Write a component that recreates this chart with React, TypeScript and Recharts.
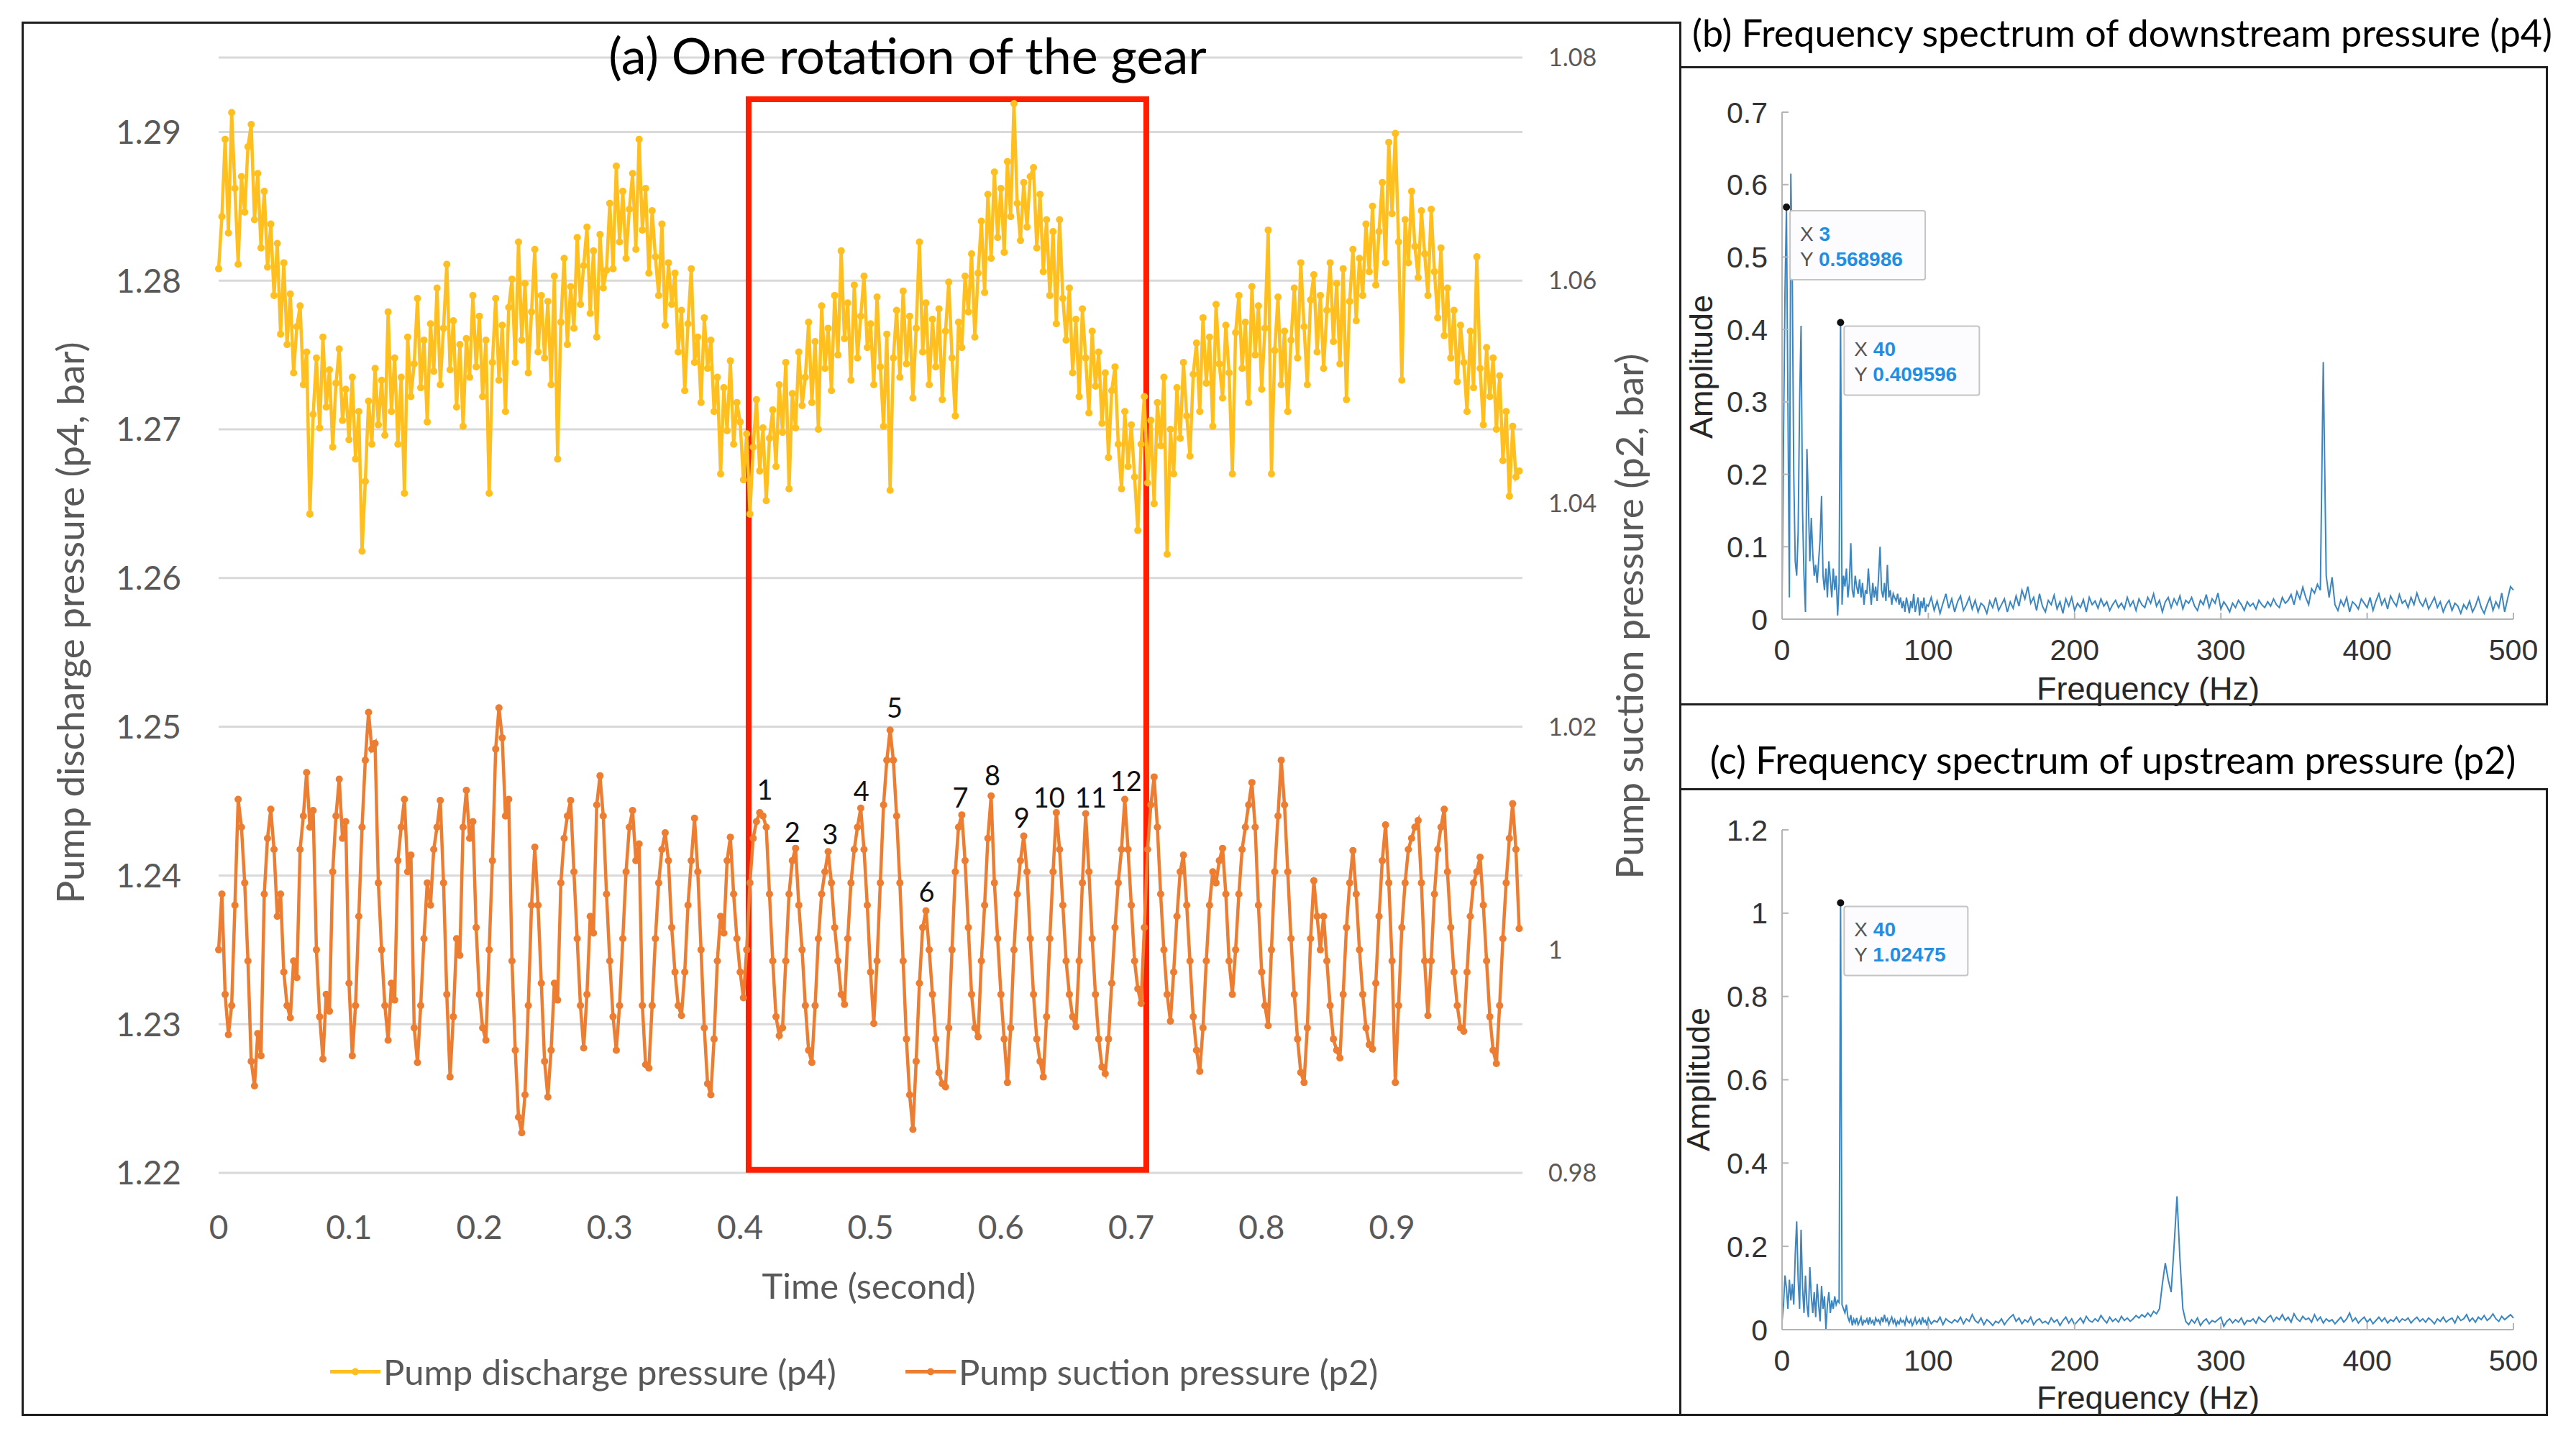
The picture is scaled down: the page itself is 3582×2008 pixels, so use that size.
import React from 'react';
import { CartesianGrid, Line, LineChart, ReferenceArea, ReferenceDot, XAxis, YAxis } from 'recharts';

const CAL = 'Lato, "Open Sans", sans-serif';
const MAT = '"Liberation Sans", Arial, sans-serif';
const YELLOW = '#FFBF1F';
const ORANGE = '#ED7D31';
const SPEC = '#3a86c2';
const AXIS_TXT = '#595959';

// time series, one sample every 2.5 ms (one line = 25 ms)
const SAMPLE_STEP = 0.0025;

// pump discharge pressure p4 (bar, left axis)
const p4 = [
  1.2808, 1.2843, 1.2895, 1.2832, 1.2913, 1.2862, 1.2811, 1.2870, 1.2846, 1.2890,
  1.2905, 1.2841, 1.2872, 1.2822, 1.2860, 1.2809, 1.2838, 1.2790, 1.2825, 1.2764,
  1.2812, 1.2757, 1.2791, 1.2738, 1.2769, 1.2783, 1.2730, 1.2752, 1.2643, 1.2710,
  1.2748, 1.2701, 1.2762, 1.2715, 1.2740, 1.2688, 1.2731, 1.2754, 1.2706, 1.2727,
  1.2693, 1.2735, 1.2680, 1.2712, 1.2618, 1.2665, 1.2719, 1.2690, 1.2741, 1.2703,
  1.2733, 1.2696, 1.2779, 1.2712, 1.2748, 1.2690, 1.2735, 1.2657, 1.2762, 1.2722,
  1.2744, 1.2788, 1.2728, 1.2760, 1.2705, 1.2771, 1.2739, 1.2795, 1.2730, 1.2768,
  1.2811, 1.2740, 1.2773, 1.2715, 1.2757, 1.2702, 1.2761, 1.2735, 1.2790, 1.2742,
  1.2776, 1.2722, 1.2760, 1.2657, 1.2745, 1.2788, 1.2733, 1.2770, 1.2712, 1.2782,
  1.2801, 1.2745, 1.2826, 1.2760, 1.2798, 1.2738, 1.2779, 1.2821, 1.2752, 1.2790,
  1.2748, 1.2786, 1.2730, 1.2803, 1.2680, 1.2772, 1.2815, 1.2757, 1.2796, 1.2768,
  1.2829, 1.2784, 1.2810, 1.2836, 1.2778, 1.2820, 1.2762, 1.2831, 1.2795, 1.2807,
  1.2852, 1.2808, 1.2877, 1.2826, 1.2860, 1.2815, 1.2848, 1.2872, 1.2821, 1.2895,
  1.2834, 1.2862, 1.2805, 1.2847, 1.2816, 1.2790, 1.2838, 1.2770, 1.2812, 1.2784,
  1.2805, 1.2752, 1.2780, 1.2726, 1.2771, 1.2808, 1.2745, 1.2762, 1.2718, 1.2775,
  1.2741, 1.2760, 1.2712, 1.2735, 1.2670, 1.2728, 1.2699, 1.2746, 1.2690, 1.2718,
  1.2705, 1.2666, 1.2697, 1.2643, 1.2688, 1.2720, 1.2672, 1.2701, 1.2652, 1.2694,
  1.2713, 1.2675, 1.2730, 1.2698, 1.2745, 1.2660, 1.2724, 1.2701, 1.2752, 1.2716,
  1.2735, 1.2772, 1.2718, 1.2759, 1.2700, 1.2783, 1.2741, 1.2768, 1.2726, 1.2790,
  1.2750, 1.2820, 1.2761, 1.2785, 1.2733, 1.2797, 1.2748, 1.2776, 1.2803, 1.2755,
  1.2771, 1.2730, 1.2789, 1.2742, 1.2702, 1.2764, 1.2659, 1.2748, 1.2780, 1.2735,
  1.2793, 1.2744, 1.2776, 1.2721, 1.2768, 1.2826, 1.2752, 1.2785, 1.2730, 1.2774,
  1.2742, 1.2781, 1.2720, 1.2766, 1.2799, 1.2748, 1.2709, 1.2772, 1.2755, 1.2803,
  1.2779, 1.2818, 1.2762, 1.2805, 1.2840, 1.2792, 1.2858, 1.2815, 1.2873, 1.2829,
  1.2862, 1.2819, 1.2880, 1.2843, 1.2919, 1.2852, 1.2827, 1.2866, 1.2836, 1.2870,
  1.2876, 1.2822, 1.2858, 1.2806, 1.2841, 1.2790, 1.2833, 1.2771, 1.2841, 1.2788,
  1.2760, 1.2795, 1.2738, 1.2774, 1.2722, 1.2781, 1.2748, 1.2711, 1.2766, 1.2729,
  1.2752, 1.2704, 1.2738, 1.2681, 1.2726, 1.2742, 1.2690, 1.2660, 1.2712, 1.2675,
  1.2703, 1.2668, 1.2632, 1.2690, 1.2722, 1.2664, 1.2706, 1.2650, 1.2718, 1.2689,
  1.2735, 1.2616, 1.2700, 1.2670, 1.2728, 1.2694, 1.2745, 1.2709, 1.2682, 1.2737,
  1.2758, 1.2712, 1.2775, 1.2731, 1.2762, 1.2702, 1.2784, 1.2744, 1.2721, 1.2770,
  1.2738, 1.2670, 1.2765, 1.2790, 1.2741, 1.2772, 1.2718, 1.2796, 1.2750, 1.2783,
  1.2727, 1.2768, 1.2834, 1.2670, 1.2753, 1.2789, 1.2730, 1.2766, 1.2712, 1.2760,
  1.2795, 1.2748, 1.2812, 1.2769, 1.2730, 1.2787, 1.2804, 1.2752, 1.2790, 1.2741,
  1.2780, 1.2812, 1.2759, 1.2798, 1.2744, 1.2808, 1.2720, 1.2786, 1.2821, 1.2773,
  1.2815, 1.2790, 1.2838, 1.2806, 1.2850, 1.2797, 1.2833, 1.2866, 1.2812, 1.2893,
  1.2845, 1.2899, 1.2826, 1.2733, 1.2841, 1.2812, 1.2860, 1.2823, 1.2802, 1.2847,
  1.2818, 1.2790, 1.2848, 1.2806, 1.2775, 1.2822, 1.2763, 1.2795, 1.2748, 1.2780,
  1.2732, 1.2770, 1.2745, 1.2712, 1.2766, 1.2728, 1.2816, 1.2741, 1.2703, 1.2755,
  1.2722, 1.2748, 1.2700, 1.2736, 1.2679, 1.2712, 1.2655, 1.2702, 1.2668, 1.2672,
];

// pump suction pressure p2 (bar, right axis)
const p2 = [
  1.0000, 1.0050, 0.9960, 0.9924, 0.9950, 1.0040, 1.0135, 1.0110, 1.0060, 0.9990,
  0.9900, 0.9878, 0.9925, 0.9905, 1.0050, 1.0100, 1.0126, 1.0090, 1.0030, 1.0050,
  0.9980, 0.9950, 0.9939, 0.9990, 0.9975, 1.0090, 1.0120, 1.0159, 1.0110, 1.0125,
  1.0000, 0.9940, 0.9902, 0.9960, 0.9945, 1.0070, 1.0120, 1.0153, 1.0100, 1.0115,
  0.9970, 0.9905, 0.9950, 1.0030, 1.0110, 1.0170, 1.0213, 1.0180, 1.0185, 1.0060,
  1.0000, 0.9950, 0.9919, 0.9970, 0.9955, 1.0080, 1.0110, 1.0135, 1.0070, 1.0085,
  0.9930, 0.9899, 0.9950, 1.0010, 1.0060, 1.0040, 1.0090, 1.0110, 1.0134, 1.0060,
  0.9960, 0.9886, 0.9940, 1.0010, 0.9995, 1.0110, 1.0143, 1.0100, 1.0115, 1.0020,
  0.9960, 0.9930, 0.9919, 1.0000, 1.0080, 1.0180, 1.0217, 1.0190, 1.0120, 1.0135,
  0.9990, 0.9910, 0.9850, 0.9836, 0.9870, 0.9950, 1.0040, 1.0092, 1.0040, 0.9970,
  0.9900, 0.9868, 0.9910, 0.9970, 0.9955, 1.0060, 1.0100, 1.0120, 1.0134, 1.0070,
  1.0010, 0.9950, 0.9912, 0.9960, 1.0030, 1.0015, 1.0130, 1.0156, 1.0120, 1.0050,
  0.9990, 0.9940, 0.9910, 0.9950, 1.0010, 1.0070, 1.0110, 1.0125, 1.0080, 1.0095,
  0.9950, 0.9897, 0.9894, 0.9950, 1.0010, 1.0060, 1.0090, 1.0105, 1.0080, 1.0020,
  0.9980, 0.9950, 0.9941, 0.9980, 1.0040, 1.0080, 1.0118, 1.0070, 1.0000, 0.9930,
  0.9880, 0.9870, 0.9920, 0.9990, 1.0030, 1.0015, 1.0080, 1.0101, 1.0050, 1.0010,
  0.9980, 0.9957, 1.0000, 1.0060, 1.0100, 1.0115, 1.0123, 1.0120, 1.0110, 1.0050,
  0.9990, 0.9940, 0.9923, 0.9930, 0.9990, 1.0050, 1.0080, 1.0091, 1.0040, 1.0000,
  0.9950, 0.9910, 0.9899, 0.9950, 1.0010, 1.0050, 1.0070, 1.0088, 1.0060, 1.0020,
  0.9990, 0.9960, 0.9951, 1.0010, 1.0060, 1.0090, 1.0110, 1.0127, 1.0090, 1.0040,
  0.9980, 0.9934, 0.9990, 1.0060, 1.0130, 1.0170, 1.0197, 1.0170, 1.0120, 1.0060,
  0.9990, 0.9920, 0.9870, 0.9839, 0.9900, 0.9970, 1.0020, 1.0035, 1.0000, 0.9960,
  0.9920, 0.9890, 0.9880, 0.9877, 0.9930, 1.0000, 1.0070, 1.0110, 1.0121, 1.0080,
  1.0020, 0.9960, 0.9930, 0.9922, 0.9990, 1.0040, 1.0100, 1.0138, 1.0060, 1.0010,
  0.9960, 0.9920, 0.9881, 0.9930, 1.0000, 1.0050, 1.0080, 1.0102, 1.0070, 1.0010,
  0.9960, 0.9920, 0.9900, 0.9886, 0.9940, 1.0010, 1.0070, 1.0123, 1.0090, 1.0040,
  0.9990, 0.9960, 0.9940, 0.9931, 0.9990, 1.0060, 1.0122, 1.0070, 1.0010, 0.9960,
  0.9920, 0.9895, 0.9889, 0.9920, 0.9970, 1.0020, 1.0060, 1.0090, 1.0135, 1.0090,
  1.0040, 0.9990, 0.9965, 0.9952, 1.0020, 1.0090, 1.0130, 1.0155, 1.0110, 1.0050,
  1.0000, 0.9960, 0.9936, 0.9980, 1.0030, 1.0070, 1.0085, 1.0040, 0.9990, 0.9940,
  0.9910, 0.9891, 0.9930, 0.9990, 1.0040, 1.0070, 1.0060, 1.0080, 1.0091, 1.0050,
  0.9990, 0.9960, 1.0000, 1.0050, 1.0090, 1.0110, 1.0130, 1.0150, 1.0110, 1.0040,
  0.9980, 0.9950, 0.9932, 1.0000, 1.0070, 1.0120, 1.0170, 1.0130, 1.0070, 1.0010,
  0.9960, 0.9920, 0.9890, 0.9881, 0.9930, 1.0010, 1.0062, 1.0030, 1.0000, 1.0030,
  0.9990, 0.9950, 0.9920, 0.9910, 0.9903, 0.9960, 1.0020, 1.0060, 1.0089, 1.0050,
  1.0000, 0.9960, 0.9930, 0.9915, 0.9911, 0.9970, 1.0030, 1.0080, 1.0112, 1.0060,
  0.9990, 0.9881, 0.9950, 1.0020, 1.0060, 1.0090, 1.0100, 1.0110, 1.0116, 1.0060,
  0.9990, 0.9941, 0.9990, 1.0050, 1.0090, 1.0110, 1.0126, 1.0070, 1.0020, 0.9980,
  0.9950, 0.9930, 0.9927, 0.9980, 1.0030, 1.0060, 1.0070, 1.0083, 1.0040, 0.9990,
  0.9940, 0.9910, 0.9898, 0.9950, 1.0010, 1.0060, 1.0100, 1.0131, 1.0090, 1.0019,
];

const timeTicks = [0, 0.1, 0.2, 0.3, 0.4, 0.5, 0.6, 0.7, 0.8, 0.9];
const p4Ticks = [1.22, 1.23, 1.24, 1.25, 1.26, 1.27, 1.28, 1.29];
const p2Ticks = [0.98, 1, 1.02, 1.04, 1.06, 1.08];

// tooth-pass peaks marked inside the red box (label position, right axis units)
const peakNames = ['1', '2', '3', '4', '5', '6', '7', '8', '9', '10', '11', '12'];
const peakTime = [0.419, 0.44, 0.469, 0.493, 0.5185, 0.543, 0.569, 0.5935, 0.616, 0.637, 0.669, 0.696];
const peakLevel = [1.0144, 1.0106, 1.0104, 1.0143, 1.0218, 1.0053, 1.0137, 1.0157, 1.0119, 1.0137, 1.0137, 1.0152];

// one gear rotation window
const boxTime = [0.4065, 0.7115];
const boxP4 = [1.2202, 1.2922];

// FFT amplitude, 0-99 Hz at 1 Hz, then 100-500 Hz at 2 Hz
const p4SpecLow = [
  0.030, 0.250, 0.450, 0.568986, 0.300, 0.030, 0.615, 0.470, 0.200, 0.080,
  0.060, 0.120, 0.300, 0.405, 0.150, 0.060, 0.010, 0.235, 0.160, 0.080,
  0.140, 0.090, 0.060, 0.075, 0.050, 0.080, 0.110, 0.170, 0.060, 0.040,
  0.070, 0.030, 0.080, 0.055, 0.030, 0.070, 0.040, 0.060, 0.005, 0.050,
  0.409596, 0.020, 0.060, 0.045, 0.070, 0.030, 0.050, 0.105, 0.040, 0.030,
  0.060, 0.045, 0.035, 0.055, 0.030, 0.050, 0.020, 0.040, 0.035, 0.070,
  0.040, 0.020, 0.050, 0.030, 0.045, 0.025, 0.060, 0.100, 0.040, 0.030,
  0.050, 0.025, 0.075, 0.030, 0.040, 0.020, 0.035, 0.030, 0.025, 0.035,
  0.020, 0.030, 0.015, 0.025, 0.010, 0.030, 0.020, 0.008, 0.025, 0.015,
  0.035, 0.010, 0.020, 0.030, 0.005, 0.025, 0.015, 0.030, 0.010, 0.020,
];
const p4SpecHigh = [
  0.018, 0.030, 0.012, 0.025, 0.008, 0.022, 0.035, 0.015, 0.028, 0.010,
  0.024, 0.032, 0.012, 0.020, 0.030, 0.014, 0.026, 0.010, 0.022, 0.018,
  0.008, 0.025, 0.016, 0.030, 0.012, 0.020, 0.028, 0.010, 0.024, 0.015,
  0.032, 0.018, 0.040, 0.028, 0.045, 0.022, 0.030, 0.012, 0.035, 0.018,
  0.010, 0.026, 0.020, 0.033, 0.014, 0.024, 0.008, 0.028, 0.018, 0.030,
  0.012, 0.022, 0.016, 0.027, 0.010, 0.030, 0.020, 0.025, 0.015, 0.028,
  0.018, 0.024, 0.012, 0.020, 0.026, 0.016, 0.022, 0.014, 0.030, 0.018,
  0.025, 0.012, 0.028, 0.020, 0.016, 0.030, 0.022, 0.035, 0.018, 0.026,
  0.010, 0.024, 0.030, 0.016, 0.028, 0.020, 0.032, 0.014, 0.026, 0.022,
  0.030, 0.018, 0.012, 0.026, 0.020, 0.034, 0.016, 0.028, 0.022, 0.036,
  0.014, 0.024, 0.018, 0.010, 0.022, 0.016, 0.026, 0.020, 0.012, 0.024,
  0.018, 0.022, 0.014, 0.026, 0.020, 0.016, 0.024, 0.018, 0.028, 0.020,
  0.016, 0.030, 0.022, 0.026, 0.034, 0.020, 0.038, 0.028, 0.044, 0.030,
  0.020, 0.042, 0.036, 0.048, 0.040, 0.355, 0.060, 0.030, 0.058, 0.020,
  0.012, 0.026, 0.018, 0.030, 0.010, 0.024, 0.020, 0.014, 0.028, 0.022,
  0.016, 0.030, 0.012, 0.025, 0.035, 0.020, 0.028, 0.014, 0.032, 0.024,
  0.018, 0.034, 0.022, 0.026, 0.016, 0.030, 0.020, 0.036, 0.024, 0.018,
  0.028, 0.014, 0.022, 0.030, 0.016, 0.024, 0.010, 0.020, 0.026, 0.012,
  0.022, 0.018, 0.008, 0.020, 0.014, 0.025, 0.010, 0.018, 0.030, 0.016,
  0.008, 0.020, 0.030, 0.012, 0.024, 0.016, 0.036, 0.010, 0.028, 0.045,
  0.040,
];
const p2SpecLow = [
  0.020, 0.060, 0.130, 0.100, 0.050, 0.120, 0.070, 0.110, 0.060, 0.180,
  0.260, 0.120, 0.050, 0.240, 0.100, 0.040, 0.130, 0.060, 0.030, 0.150,
  0.080, 0.040, 0.090, 0.030, 0.110, 0.060, 0.020, 0.105, 0.050, 0.080,
  0.002, 0.060, 0.090, 0.040, 0.070, 0.050, 0.080, 0.060, 0.070, 0.065,
  1.02475, 0.060, 0.050, 0.040, 0.060, 0.030, 0.020, 0.035, 0.010, 0.025,
  0.015, 0.028, 0.012, 0.020, 0.030, 0.010, 0.022, 0.018, 0.026, 0.012,
  0.030, 0.016, 0.022, 0.010, 0.028, 0.020, 0.024, 0.014, 0.030, 0.018,
  0.036, 0.020, 0.026, 0.012, 0.022, 0.030, 0.016, 0.024, 0.010, 0.020,
  0.014, 0.026, 0.018, 0.022, 0.012, 0.030, 0.020, 0.016, 0.024, 0.010,
  0.018, 0.028, 0.014, 0.020, 0.025, 0.012, 0.030, 0.018, 0.022, 0.010,
];
const p2SpecHigh = [
  0.028, 0.014, 0.022, 0.018, 0.030, 0.012, 0.026, 0.020, 0.016, 0.024,
  0.018, 0.030, 0.014, 0.026, 0.020, 0.036, 0.022, 0.016, 0.028, 0.012,
  0.024, 0.018, 0.010, 0.020, 0.016, 0.026, 0.012, 0.022, 0.030, 0.036,
  0.020, 0.028, 0.014, 0.024, 0.018, 0.030, 0.012, 0.022, 0.026, 0.016,
  0.020, 0.014, 0.028, 0.018, 0.024, 0.010, 0.022, 0.030, 0.016, 0.026,
  0.012, 0.020, 0.028, 0.016, 0.032, 0.022, 0.018, 0.026, 0.020, 0.034,
  0.024, 0.016, 0.030, 0.020, 0.026, 0.018, 0.032, 0.022, 0.028, 0.020,
  0.026, 0.034, 0.028, 0.036, 0.030, 0.040, 0.032, 0.044, 0.038, 0.050,
  0.110, 0.160, 0.120, 0.090, 0.200, 0.320, 0.170, 0.050, 0.020, 0.012,
  0.024, 0.016, 0.028, 0.010, 0.020, 0.026, 0.014, 0.022, 0.018, 0.024,
  0.030, 0.008, 0.020, 0.026, 0.016, 0.024, 0.018, 0.028, 0.012, 0.022,
  0.020, 0.026, 0.016, 0.030, 0.022, 0.018, 0.028, 0.034, 0.020, 0.030,
  0.024, 0.036, 0.022, 0.030, 0.018, 0.038, 0.026, 0.020, 0.032, 0.024,
  0.028, 0.018, 0.036, 0.022, 0.030, 0.016, 0.026, 0.020, 0.024, 0.014,
  0.022, 0.030, 0.018, 0.026, 0.040, 0.020, 0.028, 0.016, 0.024, 0.030,
  0.018, 0.026, 0.014, 0.022, 0.030, 0.020, 0.028, 0.016, 0.024, 0.020,
  0.030, 0.018, 0.026, 0.022, 0.028, 0.016, 0.024, 0.030, 0.020, 0.026,
  0.018, 0.028, 0.022, 0.014, 0.026, 0.020, 0.030, 0.018, 0.024, 0.028,
  0.016, 0.032, 0.022, 0.026, 0.036, 0.020, 0.028, 0.018, 0.030, 0.024,
  0.034, 0.022, 0.028, 0.038, 0.026, 0.020, 0.032, 0.024, 0.030, 0.036,
  0.028,
];

const freqTicks = [0, 100, 200, 300, 400, 500];
const p4AmpTicks = [0, 0.1, 0.2, 0.3, 0.4, 0.5, 0.6, 0.7];
const p2AmpTicks = [0, 0.2, 0.4, 0.6, 0.8, 1, 1.2];

// MATLAB data tips
const p4TipX = [3, 40];
const p4TipY = [0.568986, 0.409596];
const p2TipX = [40];
const p2TipY = [1.02475];

const timeRows = p4.map((v, i) => ({ t: i * SAMPLE_STEP, p4: v, p2: p2[i] }));

function spectrumRows(low: number[], high: number[]) {
  return [...low.map((a, i) => ({ f: i, a })), ...high.map((a, j) => ({ f: 100 + 2 * j, a }))];
}

function DataTip({ cx, cy, xs, ys }: { cx: number; cy: number; xs: string; ys: string }) {
  const w = 60 + ys.length * 16;
  return (
    <g>
      <rect x={cx + 5} y={cy + 5} width={w} height={96} rx={3} fill="#fcfcfe" stroke="#c4c4c4" strokeWidth={2} />
      <circle cx={cx} cy={cy} r={5} fill="#111" />
      <text x={cx + 19} y={cy + 47} fontSize={28} fontFamily={MAT}>
        <tspan fill="#555">X </tspan>
        <tspan fill="#1f8fe5" fontWeight="bold">{xs}</tspan>
      </text>
      <text x={cx + 19} y={cy + 82} fontSize={28} fontFamily={MAT}>
        <tspan fill="#555">Y </tspan>
        <tspan fill="#1f8fe5" fontWeight="bold">{ys}</tspan>
      </text>
    </g>
  );
}

function Spectrum(props: {
  left: number;
  top: number;
  height: number;
  marginTop: number;
  rows: { f: number; a: number }[];
  yMax: number;
  yTicks: number[];
  tipX: number[];
  tipY: number[];
}) {
  const { left, top, height, marginTop, rows, yMax, yTicks, tipX, tipY } = props;
  const tickFont = { fill: '#333', fontSize: 41, fontFamily: MAT };
  return (
    <div style={{ position: 'absolute', left, top }}>
      <LineChart width={1204} height={height} data={rows} margin={{ top: marginTop, right: 46, bottom: 0, left: 0 }}>
        <XAxis dataKey="f" type="number" domain={[0, 500]} ticks={freqTicks} interval={0} height={118}
          stroke="#b4b4b4" strokeWidth={2} tickSize={-9} tickMargin={37} tick={tickFont} />
        <XAxis xAxisId="top" type="number" orientation="top" domain={[0, 500]} ticks={freqTicks} interval={0}
          height={0} stroke="#b4b4b4" strokeWidth={2} tickSize={-9} tick={false} />
        <YAxis type="number" domain={[0, yMax]} ticks={yTicks} interval={0} width={141}
          stroke="#b4b4b4" strokeWidth={2} tickSize={-9} tickMargin={29} tick={tickFont} />
        <YAxis yAxisId="r" type="number" orientation="right" domain={[0, yMax]} ticks={yTicks} interval={0}
          width={0} stroke="#b4b4b4" strokeWidth={2} tickSize={-9} tick={false} />
        <Line dataKey="a" type="linear" stroke={SPEC} strokeWidth={2} dot={false} activeDot={false}
          isAnimationActive={false} />
        {tipX.map((x, i) => (
          <ReferenceDot key={i} x={x} y={tipY[i]} r={0}
            shape={(p: any) => <DataTip cx={p.cx} cy={p.cy} xs={String(x)} ys={String(tipY[i])} />} />
        ))}
      </LineChart>
    </div>
  );
}

const abs = (left: number, top: number, extra: React.CSSProperties = {}): React.CSSProperties => ({
  position: 'absolute',
  left,
  top,
  whiteSpace: 'nowrap',
  lineHeight: 1,
  ...extra,
});

function LegendItem({ left, color, text }: { left: number; color: string; text: string }) {
  return (
    <div style={abs(left, 1907, { transform: 'translateY(-50%)', display: 'flex', alignItems: 'center' })}>
      <svg width={70} height={20}>
        <line x1={0} y1={10} x2={70} y2={10} stroke={color} strokeWidth={5} />
        <circle cx={35} cy={10} r={5} fill={color} />
      </svg>
      <span style={{ fontFamily: CAL, fontSize: 49, color: AXIS_TXT, marginLeft: 4 }}>{text}</span>
    </div>
  );
}

export default function App() {
  const mainTick = { fill: AXIS_TXT, fontSize: 46, fontFamily: CAL };
  return (
    <div style={{ position: 'absolute', left: 0, top: 0, width: 3582, height: 2008, background: '#fff' }}>
      {/* frames */}
      <div style={{ position: 'absolute', left: 30, top: 30, width: 2308, height: 1939, border: '3px solid #1e1e1e', boxSizing: 'border-box' }} />
      <div style={{ position: 'absolute', left: 2335, top: 92, width: 1208, height: 889, border: '3px solid #1e1e1e', boxSizing: 'border-box' }} />
      <div style={{ position: 'absolute', left: 2335, top: 1096, width: 1208, height: 873, border: '3px solid #1e1e1e', boxSizing: 'border-box' }} />

      {/* (a) time series */}
      <div style={{ position: 'absolute', left: 0, top: 0 }}>
        <LineChart width={2335} height={1968} data={timeRows} margin={{ top: 80, right: 0, bottom: 277, left: 30 }}>
          <CartesianGrid vertical={false} stroke="#d9d9d9" strokeWidth={3} />
          <XAxis dataKey="t" type="number" domain={[0, 1]} ticks={timeTicks} interval={0} height={60}
            axisLine={false} tickLine={false} tickMargin={53} tick={mainTick} />
          <YAxis type="number" domain={[1.22, 1.295]} ticks={p4Ticks} interval={0} width={274}
            axisLine={false} tickLine={false} tickMargin={46} tick={mainTick} allowDataOverflow />
          <YAxis yAxisId="right" orientation="right" type="number" domain={[0.98, 1.08]} ticks={p2Ticks}
            interval={0} width={218} axisLine={false} tickLine={false} tickMargin={30}
            tick={{ ...mainTick, fontSize: 34 }} allowDataOverflow />
          <Line dataKey="p4" type="linear" stroke={YELLOW} strokeWidth={4.5}
            dot={{ r: 5, fill: YELLOW, stroke: 'none' }} activeDot={false} isAnimationActive={false} />
          <Line dataKey="p2" yAxisId="right" type="linear" stroke={ORANGE} strokeWidth={4.5}
            dot={{ r: 5, fill: ORANGE, stroke: 'none' }} activeDot={false} isAnimationActive={false} />
          <ReferenceArea x1={boxTime[0]} x2={boxTime[1]} y1={boxP4[0]} y2={boxP4[1]}
            fill="none" fillOpacity={0} stroke="#ff1f00" strokeWidth={8} />
          {peakNames.map((n, i) => (
            <ReferenceDot key={n} yAxisId="right" x={peakTime[i]} y={peakLevel[i]} r={0}
              shape={(p: any) => (
                <text x={p.cx} y={p.cy} textAnchor="middle" dominantBaseline="central" fontSize={38}
                  fontFamily={CAL} fill="#111">{n}</text>
              )} />
          ))}
        </LineChart>
      </div>

      <div style={abs(1262, 76, { transform: 'translate(-50%, -50%)', fontFamily: CAL, fontSize: 70, color: '#000' })}>
        (a) One rotation of the gear
      </div>
      <div style={abs(96, 866, { transform: 'translate(-50%, -50%) rotate(-90deg)', fontFamily: CAL, fontSize: 53, color: AXIS_TXT })}>
        Pump discharge pressure (p4, bar)
      </div>
      <div style={abs(2264, 857, { transform: 'translate(-50%, -50%) rotate(-90deg)', fontFamily: CAL, fontSize: 53, color: AXIS_TXT })}>
        Pump suction pressure (p2, bar)
      </div>
      <div style={abs(1208, 1787, { transform: 'translate(-50%, -50%)', fontFamily: CAL, fontSize: 49, color: AXIS_TXT })}>
        Time (second)
      </div>
      <LegendItem left={459} color={YELLOW} text="Pump discharge pressure (p4)" />
      <LegendItem left={1259} color={ORANGE} text="Pump suction pressure (p2)" />

      {/* (b) and (c) spectra */}
      <div style={abs(2951, 45, { transform: 'translate(-50%, -50%)', fontFamily: CAL, fontSize: 52, color: '#000' })}>
        (b) Frequency spectrum of downstream pressure (p4)
      </div>
      <Spectrum left={2337} top={92} height={887} marginTop={64} rows={spectrumRows(p4SpecLow, p4SpecHigh)}
        yMax={0.7} yTicks={p4AmpTicks} tipX={p4TipX} tipY={p4TipY} />
      <div style={abs(2365, 510, { transform: 'translate(-50%, -50%) rotate(-90deg)', fontFamily: MAT, fontSize: 45, color: '#262626' })}>
        Amplitude
      </div>
      <div style={abs(2987, 957, { transform: 'translate(-50%, -50%)', fontFamily: MAT, fontSize: 45, color: '#262626' })}>
        Frequency (Hz)
      </div>

      <div style={abs(2938, 1056, { transform: 'translate(-50%, -50%)', fontFamily: CAL, fontSize: 52, color: '#000' })}>
        (c) Frequency spectrum of upstream pressure (p2)
      </div>
      <Spectrum left={2337} top={1096} height={871} marginTop={58} rows={spectrumRows(p2SpecLow, p2SpecHigh)}
        yMax={1.2} yTicks={p2AmpTicks} tipX={p2TipX} tipY={p2TipY} />
      <div style={abs(2361, 1501, { transform: 'translate(-50%, -50%) rotate(-90deg)', fontFamily: MAT, fontSize: 45, color: '#262626' })}>
        Amplitude
      </div>
      <div style={abs(2987, 1943, { transform: 'translate(-50%, -50%)', fontFamily: MAT, fontSize: 45, color: '#262626' })}>
        Frequency (Hz)
      </div>
    </div>
  );
}
